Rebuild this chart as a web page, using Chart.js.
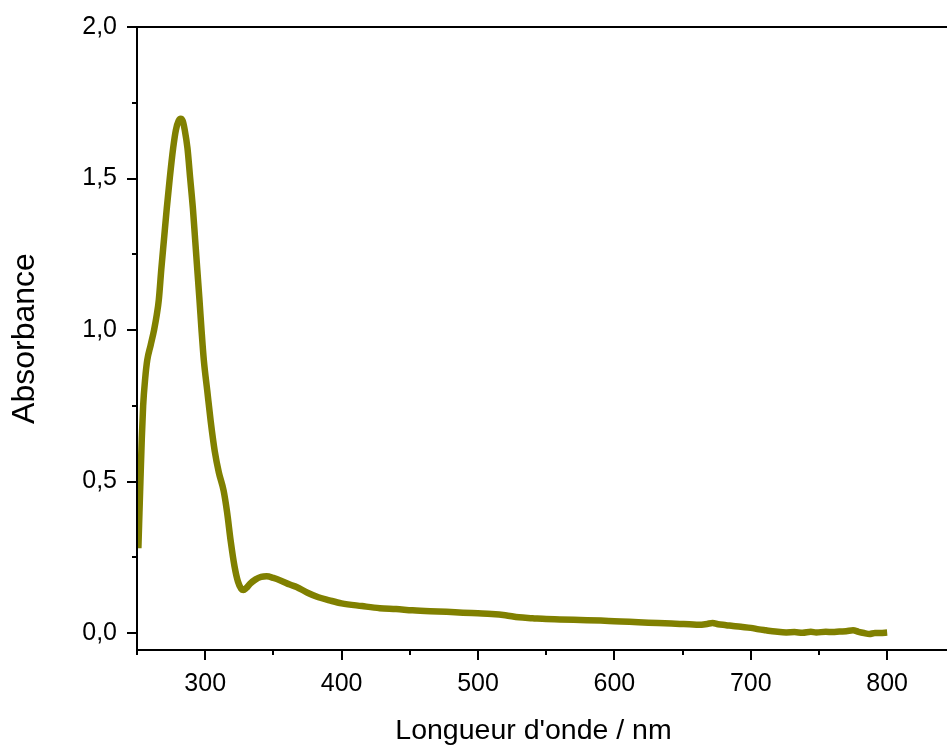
<!DOCTYPE html>
<html>
<head>
<meta charset="utf-8">
<script src="https://cdn.jsdelivr.net/npm/chart.js@4.4.1/dist/chart.umd.min.js"></script>
<style>
  html, body { margin: 0; padding: 0; background: #fff; overflow: hidden; }
  canvas { display: block; }
</style>
</head>
<body>
<canvas id="chart" width="947" height="746"></canvas>
<script>
// wavelength (nm) and absorbance
const WAVELENGTH = [
  251, 252.5, 253.5, 254.5, 256, 257.5, 260, 262.5, 264.5, 266, 267.8, 269.8, 271.8, 274, 276.5, 278.5,
  280.5, 282, 283.5, 285, 287, 289, 291, 292.6, 294.2, 295.8, 297.3, 299, 301.5, 304, 307, 310,
  313.5, 316, 318.8, 321.5, 324, 326.5, 328, 330, 333, 337, 341, 345, 350, 356, 362, 367,
  375, 383, 391, 400, 415, 428, 440, 452, 465, 477, 489, 500, 510, 520, 530, 540,
  550, 560, 575, 590, 600, 611, 625, 637, 648, 655, 662, 668, 672, 676, 682, 687,
  694, 700, 706, 711, 718, 726, 732, 738, 744, 748, 755, 760, 765, 770, 775, 779,
  783, 787, 791, 795, 800
];
const ABSORBANCE = [
  0.28, 0.50, 0.64, 0.75, 0.84, 0.90, 0.95, 1.00, 1.05, 1.10, 1.20, 1.30, 1.40, 1.50, 1.60, 1.66,
  1.69, 1.697, 1.69, 1.66, 1.60, 1.50, 1.40, 1.30, 1.20, 1.10, 1.00, 0.90, 0.80, 0.70, 0.60, 0.53,
  0.47, 0.40, 0.30, 0.22, 0.17, 0.145, 0.142, 0.148, 0.163, 0.177, 0.185, 0.187, 0.182, 0.172, 0.160, 0.152,
  0.133, 0.118, 0.108, 0.098, 0.089, 0.082, 0.079, 0.075, 0.072, 0.070, 0.067, 0.065, 0.063, 0.059, 0.052, 0.049,
  0.046, 0.045, 0.043, 0.041, 0.039, 0.037, 0.034, 0.032, 0.030, 0.029, 0.027, 0.030, 0.033, 0.029, 0.026, 0.023,
  0.020, 0.017, 0.012, 0.009, 0.005, 0.002, 0.003, 0.001, 0.004, 0.002, 0.004, 0.003, 0.005, 0.006, 0.009, 0.004,
  0.000, -0.003, 0.000, 0.000, 0.002
];

const X_TICKS = [250, 300, 350, 400, 450, 500, 550, 600, 650, 700, 750, 800];
const X_LABELS = [300, 400, 500, 600, 700, 800];
const Y_TICKS = [0, 0.25, 0.5, 0.75, 1, 1.25, 1.5, 1.75, 2];
const Y_LABELS = [0, 0.5, 1, 1.5, 2];

const OLIVE = '#808000';
const FONT = '"Liberation Sans", Arial, sans-serif';

// axis lines + outward ticks like the Origin plot
const frame = {
  id: 'frame',
  afterDraw(chart) {
    const { ctx, chartArea: a, scales: { x, y } } = chart;
    ctx.save();
    ctx.strokeStyle = '#000';
    ctx.lineWidth = 2;
    ctx.beginPath();
    ctx.moveTo(a.left, a.top); ctx.lineTo(a.left, a.bottom);
    ctx.moveTo(a.left, a.bottom); ctx.lineTo(chart.width, a.bottom);
    ctx.moveTo(a.left, a.top); ctx.lineTo(chart.width, a.top);
    Y_TICKS.forEach(v => {
      const py = Math.round(y.getPixelForValue(v));
      const len = Y_LABELS.includes(v) ? 10 : 5;
      ctx.moveTo(a.left - len, py); ctx.lineTo(a.left, py);
    });
    X_TICKS.forEach(v => {
      const px = Math.round(x.getPixelForValue(v));
      const len = X_LABELS.includes(v) ? 10 : 5;
      ctx.moveTo(px, a.bottom); ctx.lineTo(px, a.bottom + len);
    });
    ctx.stroke();
    ctx.restore();
  }
};

new Chart(document.getElementById('chart'), {
  type: 'line',
  data: {
    datasets: [{
      data: WAVELENGTH.map((w, i) => ({ x: w, y: ABSORBANCE[i] })),
      borderColor: OLIVE,
      borderWidth: 6.5,
      pointRadius: 0,
      fill: false,
      cubicInterpolationMode: 'monotone'
    }]
  },
  options: {
    responsive: false,
    animation: false,
    layout: { padding: { top: 27, right: 17, left: 0, bottom: 0 } },
    plugins: { legend: { display: false }, tooltip: { enabled: false } },
    scales: {
      x: {
        type: 'linear',
        min: 250,
        max: 831.4,
        afterFit: s => { s.height = 96; s.paddingLeft = 0; s.paddingRight = 0; },
        afterBuildTicks: s => { s.ticks = X_TICKS.map(v => ({ value: v })); },
        grid: { display: false, drawTicks: false },
        border: { display: false },
        ticks: {
          autoSkip: false, maxRotation: 0, padding: 19,
          color: '#000',
          font: { family: FONT, size: 25 },
          callback: v => X_LABELS.includes(v) ? String(v) : ''
        },
        title: {
          display: true,
          text: "Longueur d'onde / nm",
          color: '#000',
          font: { family: FONT, size: 28.5 },
          padding: { top: 0, bottom: -2 }
        }
      },
      y: {
        min: -0.056,
        max: 2.0,
        afterFit: s => { s.width = 137; s.paddingTop = 0; s.paddingBottom = 0; },
        afterBuildTicks: s => { s.ticks = Y_TICKS.map(v => ({ value: v })); },
        grid: { display: false, drawTicks: false },
        border: { display: false },
        ticks: {
          autoSkip: false, padding: 20,
          color: '#000',
          font: { family: FONT, size: 25 },
          callback: v => Y_LABELS.includes(v) ? v.toFixed(1).replace('.', ',') : ''
        },
        title: {
          display: true,
          text: 'Absorbance',
          color: '#000',
          font: { family: FONT, size: 32 },
          padding: { top: 6, bottom: 0 }
        }
      }
    }
  },
  plugins: [frame]
});
</script>
</body>
</html>
